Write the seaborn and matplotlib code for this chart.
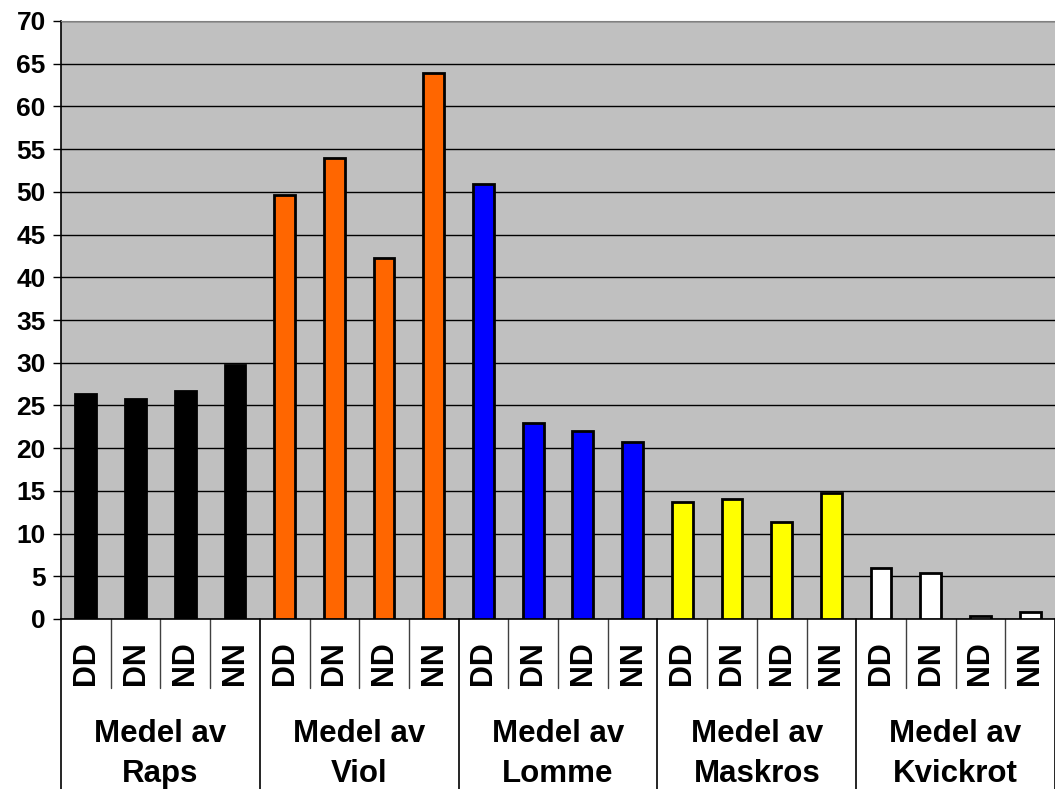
import matplotlib.pyplot as plt
import matplotlib.transforms as mtransforms
import numpy as np
import pandas as pd
import seaborn as sns

groups = ['Raps', 'Viol', 'Lomme', 'Maskros', 'Kvickrot']
subcats = ['DD', 'DN', 'ND', 'NN']
raps = [26.3, 25.7, 26.7, 29.7]
viol = [49.6, 54.0, 42.3, 63.9]
lomme = [50.9, 22.9, 22.0, 20.7]
maskros = [13.7, 14.0, 11.4, 14.7]
kvickrot = [6.0, 5.4, 0.4, 0.8]
colors = ['#000000', '#FF6600', '#0000FF', '#FFFF00', '#FFFFFF']

series = [raps, viol, lomme, maskros, kvickrot]
rows = []
for g, vals in zip(groups, series):
    for s, v in zip(subcats, vals):
        rows.append((f'{g} {s}', g, s, v))
df = pd.DataFrame(rows, columns=['key', 'group', 'sub', 'value'])

sns.set_style('white')
plt.rcParams['font.family'] = ['Liberation Sans', 'DejaVu Sans']
plt.rcParams['font.weight'] = 'bold'
plt.rcParams['text.color'] = 'black'
plt.rcParams['xtick.color'] = 'black'
plt.rcParams['ytick.color'] = 'black'

fig = plt.figure(figsize=(10.55, 7.89), dpi=100)
W, H = 1055, 789
ax = fig.add_axes([61 / W, (H - 619) / H, (W - 61) / W, (619 - 21) / H])
ax.set_facecolor('#C0C0C0')

sns.barplot(data=df, x='key', y='value', hue='group', palette=colors,
            saturation=1, dodge=False, width=0.42, edgecolor='black',
            linewidth=2, legend=False, ax=ax, zorder=3)

# axes and grid
ax.set_ylim(0, 70)
ax.set_xlim(-0.5, len(df) - 0.5)
ax.set_yticks(np.arange(0, 71, 5))
ax.yaxis.grid(True, color='black', linewidth=1.0, zorder=0)
ax.set_axisbelow(True)
ax.tick_params(axis='y', direction='out', length=6, width=1, color='black',
               labelsize=19, labelcolor='black', pad=5, left=True)
for lbl in ax.get_yticklabels():
    lbl.set_fontweight('bold')
ax.set_xlabel('')
ax.set_ylabel('')

ax.set_xticks(range(len(df)))
ax.set_xticklabels(df['sub'], rotation=90, fontsize=22, fontweight='bold',
                   color='black')
ax.tick_params(axis='x', length=0, pad=16)

ax.spines['left'].set_color('black')
ax.spines['left'].set_linewidth(1.2)
ax.spines['bottom'].set_color('black')
ax.spines['bottom'].set_linewidth(1.2)
ax.spines['top'].set_color('#808080')
ax.spines['right'].set_visible(False)

# category table below the axis
trans = mtransforms.blended_transform_factory(ax.transData, ax.transAxes)
bottom_full = -(H - 619) / (619 - 21)
short = -69 / (619 - 21)
for i in range(len(df) + 1):
    x = i - 0.5
    if i % 4 == 0:
        ax.plot([x, x], [0, bottom_full], color='black', lw=1.2,
                transform=trans, clip_on=False)
    else:
        ax.plot([x, x], [0, short], color='#404040', lw=1.0,
                transform=trans, clip_on=False)

for j, g in enumerate(groups):
    xc = j * 4 + 1.5
    ax.text(xc, -0.192, 'Medel av', transform=trans, ha='center', va='center',
            fontsize=22.5, fontweight='bold', color='black')
    ax.text(xc, -0.259, g, transform=trans, ha='center', va='center',
            fontsize=22.5, fontweight='bold', color='black')

plt.savefig('out.png', dpi=100)
plt.close()
